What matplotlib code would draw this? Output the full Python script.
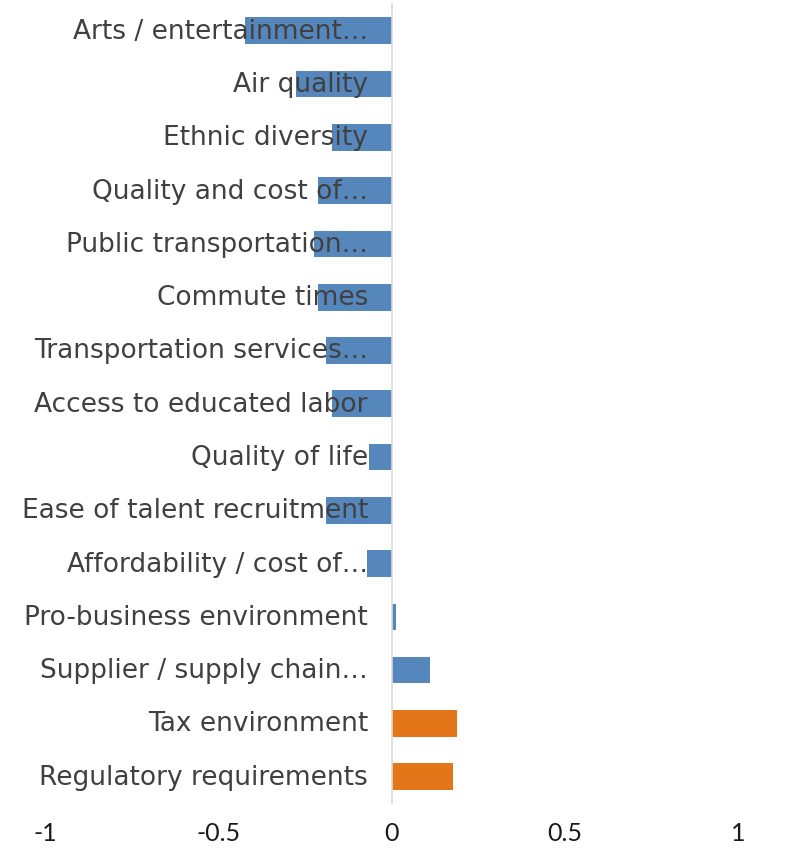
import matplotlib.pyplot as plt

labels = [
    "Arts / entertainment…", "Air quality", "Ethnic diversity",
    "Quality and cost of…", "Public transportation…", "Commute times",
    "Transportation services…", "Access to educated labor", "Quality of life",
    "Ease of talent recruitment", "Affordability / cost of…",
    "Pro-business environment", "Supplier / supply chain…",
    "Tax environment", "Regulatory requirements",
]
values = [-0.423, -0.275, -0.173, -0.212, -0.223, -0.213, -0.190, -0.173,
          -0.065, -0.190, -0.070, 0.012, 0.110, 0.188, 0.177]
highlight = ["Tax environment", "Regulatory requirements"]
xticks = [-1, -0.5, 0, 0.5, 1]
xticklabels = ["-1", "-0.5", "0", "0.5", "1"]

blue = "#5587bd"
orange = "#e37618"
colors = [orange if l in highlight else blue for l in labels]

fig = plt.figure(figsize=(7.87, 8.53), dpi=100)
ax = fig.add_axes([0.057, 0.057, 0.881, 0.937])
ax.set_axisbelow(False)  # labels are drawn over the bars

ypos = range(len(labels))
ax.barh(ypos, values, height=0.5, color=colors, zorder=1)
ax.set_ylim(len(labels) - 0.5, -0.5)
ax.set_xlim(-1, 1)

# y axis sits on the zero line, labels just left of it
ax.spines["left"].set_position(("data", 0))
ax.spines["left"].set_color("#d9d9d9")
ax.spines["left"].set_linewidth(1.2)
for s in ["top", "right", "bottom"]:
    ax.spines[s].set_visible(False)

ax.set_yticks(list(ypos))
ax.set_yticklabels(labels, fontsize=19, color="#404040", family="DejaVu Sans",
                   va="center")
ax.tick_params(axis="y", length=0, pad=17)

ax.set_xticks(xticks)
ax.set_xticklabels(xticklabels, fontsize=18, color="#1a1a1a", family="Lato")
ax.tick_params(axis="x", length=0, pad=13)

fig.savefig("out.png", dpi=100)
